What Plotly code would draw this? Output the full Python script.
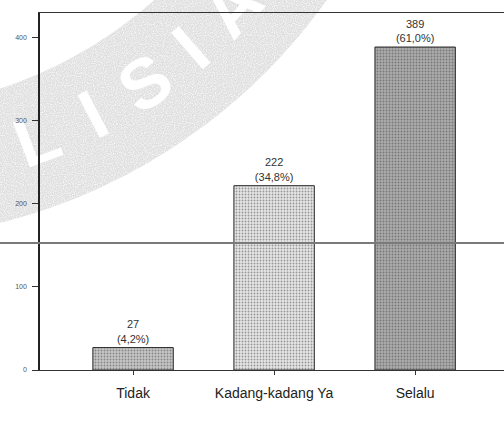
import base64
import numpy as np
import plotly.graph_objects as go

# ---- data -------------------------------------------------------------
categories = ["Tidak", "Kadang-kadang Ya", "Selalu"]
counts = [27, 222, 389]
y_ticks = [0, 100, 200, 300, 400]

total = sum(counts)
labels = [f"{c}<br>({c / total * 100:.1f}%)".replace(".", ",") for c in counts]

# ---- page geometry (pixels) --------------------------------------------
W, H = 504, 426
ML, MR, MT, MB = 40, 0, 13, 56
PW, PH = W - ML - MR, H - MT - MB


def px(x):
    return (x - ML) / PW


def py(y):
    return (H - MB - y) / PH


fills = ["#c6c6c6", "#e6e6e6", "#ababab"]
dots = ["#9a9a9a", "#c4c4c4", "#7c7c7c"]

fig = go.Figure(
    go.Bar(
        x=categories,
        y=counts,
        width=0.57,
        text=labels,
        textposition="outside",
        textfont=dict(size=11, color="#333333", family="Liberation Sans, Arial"),
        cliponaxis=False,
        marker=dict(
            color=fills,
            line=dict(color="#262626", width=1),
            pattern=dict(shape=".", size=3, solidity=0.3, fgcolor=dots, fillmode="overlay"),
        ),
        hoverinfo="skip",
    )
)

# ---- stamp band with lettering, rendered as a background image --------
cx, cy = -139, -332
r_in, r_out, r_txt = 443, 572, 502
th = np.radians(np.linspace(10, 112, 120))
ring = [(cx + r_out * np.cos(t), cy + r_out * np.sin(t)) for t in th]
ring += [(cx + r_in * np.cos(t), cy + r_in * np.sin(t)) for t in th[::-1]]
band_d = "M " + " L ".join(f"{a:.1f},{b:.1f}" for a, b in ring) + " Z"

letters_svg = ""
for ch, ang in zip("LISIA", [69.5, 62.5, 55.6, 49.0, 42.4]):
    t = np.radians(ang)
    lx, ly = cx + r_txt * np.cos(t), cy + r_txt * np.sin(t)
    letters_svg += (
        f'<text x="{lx:.1f}" y="{ly + 25:.1f}" text-anchor="middle" '
        f'transform="rotate({ang - 90:.1f} {lx:.1f} {ly:.1f})" '
        f'font-family="Liberation Sans, Arial, sans-serif" font-weight="bold" '
        f'font-size="70" fill="#ffffff">{ch}</text>'
    )

svg = (
    f'<svg xmlns="http://www.w3.org/2000/svg" width="{W}" height="{H}" viewBox="0 0 {W} {H}">'
    '<defs><filter id="grain" x="0" y="0" width="100%" height="100%">'
    '<feTurbulence type="fractalNoise" baseFrequency="0.9" numOctaves="1" seed="3" result="n"/>'
    '<feColorMatrix in="n" type="matrix" values="0 0 0 0 1  0 0 0 0 1  0 0 0 0 1  0 0 0 -2.2 1.25"/>'
    '<feComposite in2="SourceGraphic" operator="in" result="s"/>'
    '<feMerge><feMergeNode in="SourceGraphic"/><feMergeNode in="s"/></feMerge>'
    '</filter></defs>'
    f'<path d="{band_d}" fill="#e0e0e0" filter="url(#grain)"/>'
    f'{letters_svg}</svg>'
)
stamp_src = "data:image/svg+xml;base64," + base64.b64encode(svg.encode()).decode()

fig.add_layout_image(
    source=stamp_src, xref="paper", yref="paper",
    x=px(0), y=py(0), sizex=W / PW, sizey=H / PH,
    xanchor="left", yanchor="top", sizing="stretch", layer="below",
)

# crease across the sheet
fig.add_shape(
    type="line", xref="paper", yref="paper", x0=px(0), x1=px(W),
    y0=py(243), y1=py(243), layer="above", line=dict(color="#7a7a7a", width=2),
)

fig.update_layout(
    width=W, height=H,
    margin=dict(l=ML, r=MR, t=MT, b=MB, pad=0),
    paper_bgcolor="white", plot_bgcolor="rgba(0,0,0,0)",
    showlegend=False,
    xaxis=dict(
        range=[-0.66, 2.63],
        showline=True, linecolor="#333333", linewidth=1, mirror=True,
        ticks="outside", ticklen=4, tickcolor="#333333",
        ticklabelstandoff=6,
        tickfont=dict(size=14, color="#222222", family="Liberation Sans, Arial"),
        showgrid=False, zeroline=False,
    ),
    yaxis=dict(
        range=[0, 430],
        tickvals=y_ticks,
        showline=True, linecolor="#222222", linewidth=1.5,
        ticks="outside", ticklen=6, tickcolor="#333333",
        ticklabelstandoff=4,
        tickfont=dict(size=7, color="#555555", family="Liberation Sans, Arial"),
        showgrid=False, zeroline=False,
    ),
)

fig.write_html("out.html")
